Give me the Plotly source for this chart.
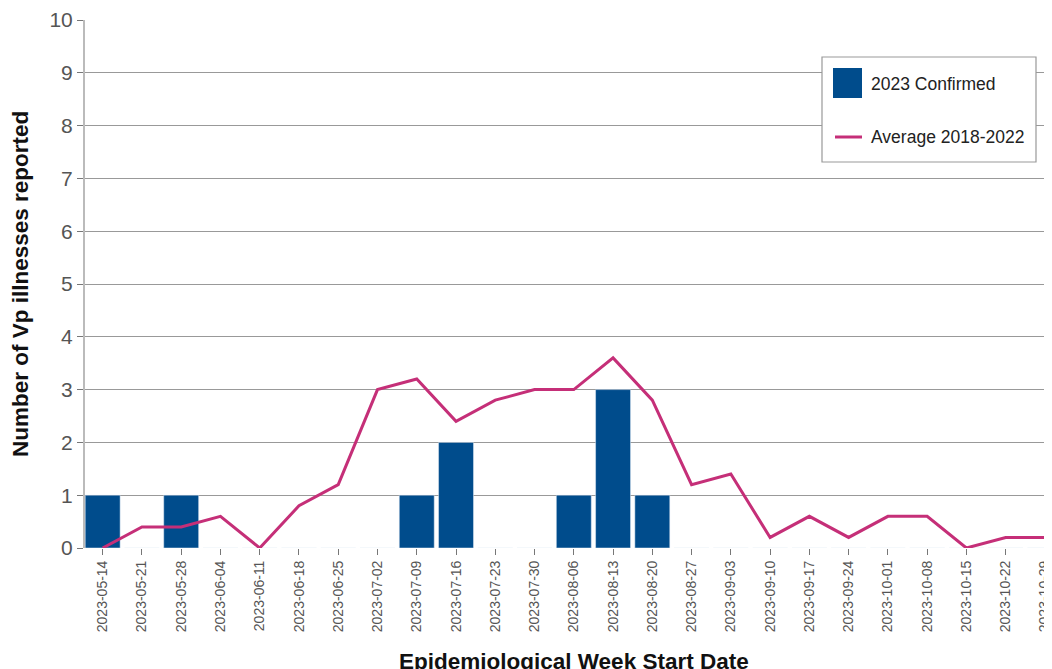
import plotly.graph_objects as go

weeks = ["2023-05-14","2023-05-21","2023-05-28","2023-06-04","2023-06-11","2023-06-18",
         "2023-06-25","2023-07-02","2023-07-09","2023-07-16","2023-07-23","2023-07-30",
         "2023-08-06","2023-08-13","2023-08-20","2023-08-27","2023-09-03","2023-09-10",
         "2023-09-17","2023-09-24","2023-10-01","2023-10-08","2023-10-15","2023-10-22",
         "2023-10-29"]
confirmed_2023 = [1,0,1,0,0,0,0,0,1,2,0,0,1,3,1,0,0,0,0,0,0,0,0,0,0]
average_2018_2022 = [0,0.4,0.4,0.6,0,0.8,1.2,3.0,3.2,2.4,2.8,3.0,3.0,3.6,2.8,1.2,1.4,0.2,0.6,0.2,0.6,0.6,0,0.2,0.2]
series_names = ["2023 Confirmed", "Average 2018-2022"]

BAR = "#004C8C"
LINE = "#C52F78"
idx = list(range(len(weeks)))

# page body has an 8px margin: figure origin is at screen (8, 8)
OFF = 8
W, H = 1052 - OFF, 669 - OFF
L, T, R_EDGE, B_EDGE = 85 - OFF, 20 - OFF, 1052 - OFF, 548 - OFF
pw = R_EDGE - L
ph = B_EDGE - T

def px(xs):  # screen x -> paper
    return (xs - OFF - L) / pw

def py(ys):  # screen y -> paper
    return (B_EDGE - (ys - OFF)) / ph

fig = go.Figure()
fig.add_trace(go.Bar(x=idx, y=confirmed_2023, marker_color=BAR, width=0.89,
                     showlegend=False, name=series_names[0]))
fig.add_trace(go.Scatter(x=idx, y=average_2018_2022, mode="lines",
                         line=dict(color=LINE, width=3), showlegend=False,
                         name=series_names[1]))

shapes = [
    dict(type="rect", xref="paper", yref="paper", x0=px(822), x1=px(1036),
         y0=py(162), y1=py(57), fillcolor="white", line=dict(color="#999", width=1.2),
         layer="above"),
    dict(type="rect", xref="paper", yref="paper", x0=px(833), x1=px(862),
         y0=py(98), y1=py(68), fillcolor=BAR, line=dict(width=0), layer="above"),
    dict(type="line", xref="paper", yref="paper", x0=px(835), x1=px(862),
         y0=py(137), y1=py(137), line=dict(color=LINE, width=3), layer="above"),
]

annotations = [
    dict(text=series_names[0], xref="paper", yref="paper", x=px(869), y=py(84),
         xanchor="left", yanchor="middle", showarrow=False,
         font=dict(size=17.5, color="#222")),
    dict(text=series_names[1], xref="paper", yref="paper", x=px(869), y=py(137),
         xanchor="left", yanchor="middle", showarrow=False,
         font=dict(size=17.5, color="#222")),
    dict(text="<b>Epidemiological Week Start Date</b>", xref="paper", yref="paper",
         x=px(574), y=py(661), xanchor="center", yanchor="middle", showarrow=False,
         font=dict(size=22.5, color="#111")),
    dict(text="<b>Number of Vp illnesses reported</b>", textangle=-90,
         xref="paper", yref="paper", x=px(20), y=py(284),
         xanchor="center", yanchor="middle", showarrow=False,
         font=dict(size=22.5, color="#111")),
]

fig.update_layout(
    width=W, height=H,
    margin=dict(l=L, r=W - R_EDGE, t=T, b=H - B_EDGE, autoexpand=False),
    plot_bgcolor="white", paper_bgcolor="white",
    font=dict(family="Liberation Sans, Arial, sans-serif", color="#222"),
    showlegend=False,
    xaxis=dict(range=[-0.45, 24.18], tickmode="array", tickvals=idx, ticktext=weeks,
               tickangle=-90, tickfont=dict(size=14, color="#555"),
               ticks="outside", ticklen=6, tickcolor="#777",
               ticklabeloverflow="allow",
               showgrid=False, showline=False, zeroline=False),
    yaxis=dict(range=[0, 10], dtick=1, tickfont=dict(size=21, color="#555"),
               ticks="outside", ticklen=6, tickcolor="#777",
               showgrid=True, gridcolor="#999", gridwidth=1.3,
               showline=True, linecolor="#bbb", linewidth=2, zeroline=False),
    shapes=shapes,
    annotations=annotations,
)
fig.write_html("out.html")
